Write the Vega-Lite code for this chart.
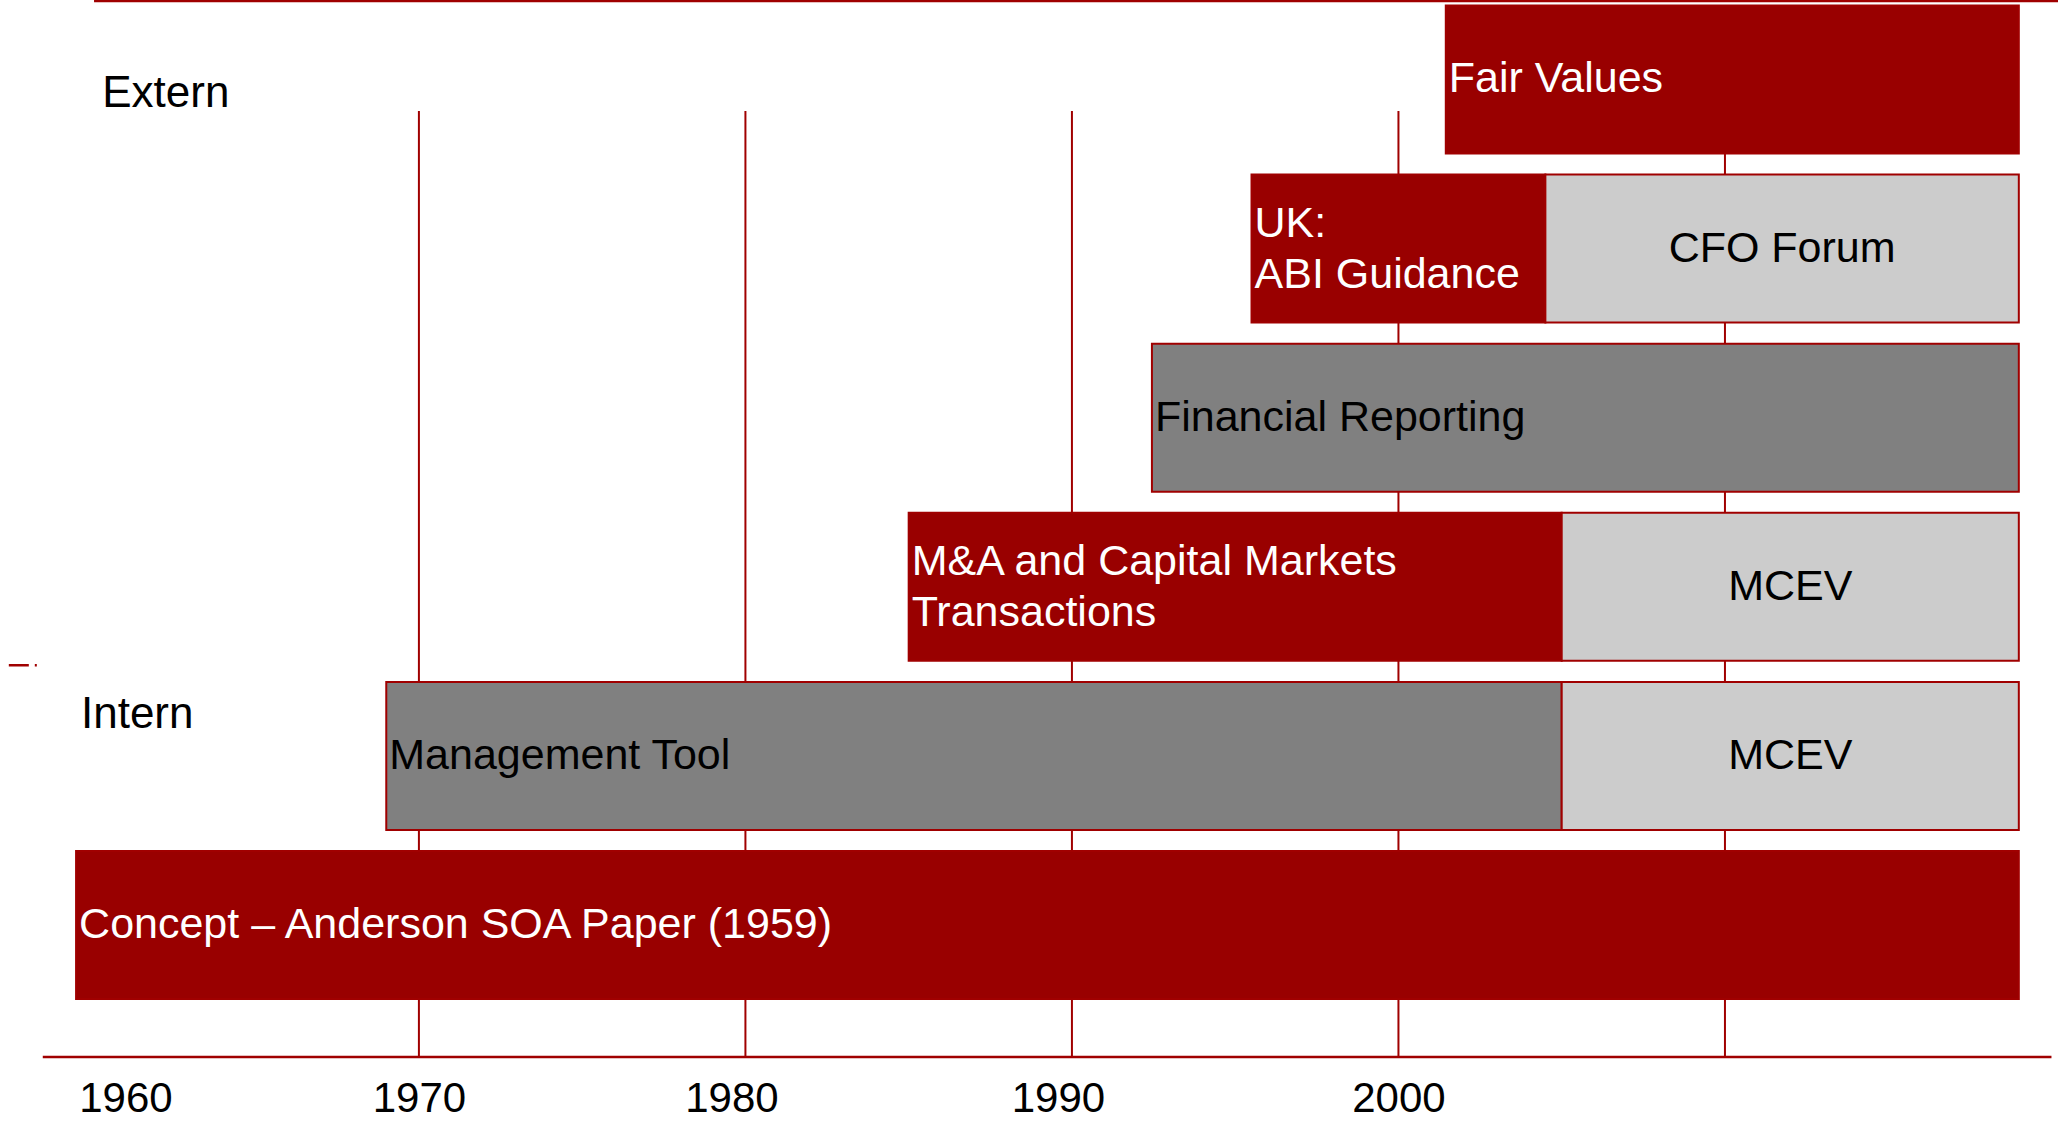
{
  "$schema": "https://vega.github.io/schema/vega-lite/v6.json",
  "width": 2058,
  "height": 1057,
  "autosize": {"type": "none"},
  "padding": {"left": 0, "right": 0, "top": 0, "bottom": 64},
  "background": "white",
  "config": {"view": {"stroke": null}, "font": "Liberation Sans"},
  "datasets": {
    "segments": [
      {"row": "Fair Values", "start": 2001.45, "end": 2019, "kind": "red", "label": "Fair Values", "pos": "left"},
      {"row": "ABI Guidance / CFO Forum", "start": 1995.5, "end": 2004.5, "kind": "red", "label": "UK:\nABI Guidance", "pos": "left2"},
      {"row": "ABI Guidance / CFO Forum", "start": 2004.5, "end": 2019, "kind": "light", "label": "CFO Forum", "pos": "center"},
      {"row": "Financial Reporting", "start": 1992.45, "end": 2019, "kind": "dark", "label": "Financial Reporting", "pos": "left"},
      {"row": "M&A / MCEV", "start": 1985, "end": 2005, "kind": "red", "label": "M&A and Capital Markets\nTransactions", "pos": "left2"},
      {"row": "M&A / MCEV", "start": 2005, "end": 2019, "kind": "light", "label": "MCEV", "pos": "center"},
      {"row": "Management Tool / MCEV", "start": 1969, "end": 2005, "kind": "dark", "label": "Management Tool", "pos": "left"},
      {"row": "Management Tool / MCEV", "start": 2005, "end": 2019, "kind": "light", "label": "MCEV", "pos": "center"},
      {"row": "Concept", "start": 1959.5, "end": 2019, "kind": "red", "label": "Concept – Anderson SOA Paper (1959)", "pos": "left"}
    ],
    "grid": [{"year": 1970}, {"year": 1980}, {"year": 1990}, {"year": 2000}, {"year": 2010}],
    "notes": [
      {"note": "Extern", "year": 1960.3, "row": "Fair Values"},
      {"note": "Intern", "year": 1959.65, "row": "Management Tool / MCEV"}
    ]
  },
  "encoding": {
    "x": {"type": "quantitative", "scale": {"domain": [1957.17, 2020.2], "nice": false, "zero": false}}
  },
  "layer": [
    {
      "data": {"name": "grid"},
      "mark": {"type": "rule", "color": "#a00000", "strokeWidth": 2},
      "encoding": {
        "x": {"field": "year", "type": "quantitative", "axis": {
          "values": [1960, 1970, 1980, 1990, 2000],
          "format": "d",
          "grid": false, "domain": false, "ticks": false, "title": null,
          "labelFont": "Liberation Sans", "labelFontSize": 42, "labelColor": "black",
          "labelPadding": 21,
          "labelOffset": {"condition": [{"test": "datum.value == 1960", "value": 33}, {"test": "datum.value == 1980 || datum.value == 1990", "value": -14}], "value": 0}
        }},
        "y": {"datum": "Fair Values", "type": "nominal", "bandPosition": 0.713,
          "scale": {"domain": ["Fair Values", "ABI Guidance / CFO Forum", "Financial Reporting", "M&A / MCEV", "Management Tool / MCEV", "Concept"],
                    "paddingInner": 0.1248, "paddingOuter": 0.1878, "align": 0.0866},
          "axis": null},
        "y2": {"value": "height"}
      }
    },
    {
      "data": {"values": [{"from": 1960.05, "to": 2020.2}]},
      "mark": {"type": "rule", "color": "#a00000", "strokeWidth": 2.5},
      "encoding": {
        "x": {"field": "from", "type": "quantitative"},
        "x2": {"field": "to"},
        "y": {"datum": "Fair Values", "type": "nominal", "bandPosition": -0.03}
      }
    },
    {
      "data": {"values": [{"from": 1958.48, "to": 2020.0}]},
      "mark": {"type": "rule", "color": "#a00000", "strokeWidth": 2.5},
      "encoding": {
        "x": {"field": "from", "type": "quantitative"},
        "x2": {"field": "to"},
        "y": {"value": "height"}
      }
    },
    {
      "data": {"values": [{"from": 1957.44, "to": 1958.3}]},
      "mark": {"type": "rule", "color": "#a00000", "strokeWidth": 2.5, "strokeDash": [20, 6, 2, 40]},
      "encoding": {
        "x": {"field": "from", "type": "quantitative"},
        "x2": {"field": "to"},
        "y": {"datum": "M&A / MCEV", "type": "nominal", "bandPosition": 1.03}
      }
    },
    {
      "data": {"name": "segments"},
      "mark": {"type": "bar", "stroke": "#a00000", "strokeWidth": 2},
      "encoding": {
        "x": {"field": "start", "type": "quantitative"},
        "x2": {"field": "end"},
        "y": {"field": "row", "type": "nominal"},
        "color": {"field": "kind", "type": "nominal", "scale": {"domain": ["red", "dark", "light"], "range": ["#990000", "#808080", "#cccccc"]}, "legend": null}
      }
    },
    {
      "data": {"name": "segments"},
      "transform": [{"filter": "datum.pos === 'left'"}],
      "mark": {"type": "text", "align": "left", "baseline": "middle", "dx": 3, "fontSize": 43, "font": "Liberation Sans"},
      "encoding": {
        "x": {"field": "start", "type": "quantitative"},
        "y": {"field": "row", "type": "nominal"},
        "text": {"field": "label"},
        "color": {"condition": {"test": "datum.kind === 'red'", "value": "white"}, "value": "black"}
      }
    },
    {
      "data": {"name": "segments"},
      "transform": [{"filter": "datum.pos === 'left2'"}],
      "mark": {"type": "text", "align": "left", "baseline": "middle", "dx": 3, "dy": -25, "fontSize": 43, "lineBreak": "\n", "lineHeight": 51, "font": "Liberation Sans"},
      "encoding": {
        "x": {"field": "start", "type": "quantitative"},
        "y": {"field": "row", "type": "nominal"},
        "text": {"field": "label"},
        "color": {"condition": {"test": "datum.kind === 'red'", "value": "white"}, "value": "black"}
      }
    },
    {
      "data": {"name": "segments"},
      "transform": [
        {"filter": "datum.pos === 'center'"},
        {"fold": ["start", "end"], "as": ["edge", "yr"]},
        {"aggregate": [{"op": "mean", "field": "yr", "as": "mid"}], "groupby": ["row", "label", "kind"]}
      ],
      "mark": {"type": "text", "align": "center", "baseline": "middle", "fontSize": 43, "font": "Liberation Sans"},
      "encoding": {
        "x": {"field": "mid", "type": "quantitative"},
        "y": {"field": "row", "type": "nominal"},
        "text": {"field": "label"},
        "color": {"value": "black"}
      }
    },
    {
      "data": {"name": "notes"},
      "transform": [{"filter": "datum.note === 'Extern'"}],
      "mark": {"type": "text", "align": "left", "baseline": "middle", "fontSize": 44, "dy": 15, "color": "black", "font": "Liberation Sans"},
      "encoding": {
        "x": {"field": "year", "type": "quantitative"},
        "y": {"field": "row", "type": "nominal"},
        "text": {"field": "note"}
      }
    },
    {
      "data": {"name": "notes"},
      "transform": [{"filter": "datum.note === 'Intern'"}],
      "mark": {"type": "text", "align": "left", "baseline": "middle", "fontSize": 44, "dy": -41, "color": "black", "font": "Liberation Sans"},
      "encoding": {
        "x": {"field": "year", "type": "quantitative"},
        "y": {"field": "row", "type": "nominal"},
        "text": {"field": "note"}
      }
    }
  ]
}
